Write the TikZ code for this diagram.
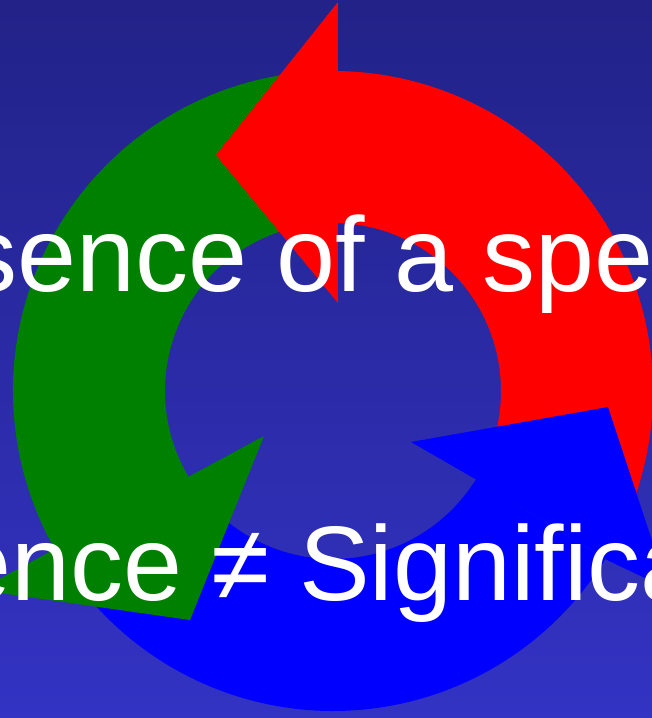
\documentclass[tikz,border=0pt]{standalone}
\usepackage{fontspec}
\setmainfont{Liberation Sans}
\usetikzlibrary{positioning}
\definecolor{bgtop}{RGB}{34,34,136}
\definecolor{bgbottom}{RGB}{51,51,196}
\definecolor{cyclered}{RGB}{255,0,0}
\definecolor{cyclegreen}{RGB}{0,128,0}
\definecolor{cycleblue}{RGB}{0,0,255}
\begin{document}
\begin{tikzpicture}[x=1pt,y=1pt,
    slogan/.style={text=white,font=\fontsize{106}{120}\selectfont,inner sep=0pt,anchor=base west}]

    \useasboundingbox (-333,-327) rectangle (319,391);
    \clip (-333,-327) rectangle (319,391);
    \shade[top color=bgtop,bottom color=bgbottom] (-333,-327) rectangle (319,391);

    % bodies of the three arrows
    \fill[cyclered] (-22:320) arc[start angle=-22,end angle=90,radius=320]
        -- (90:168) arc[start angle=90,end angle=-22,radius=168] -- cycle;
    \fill[cyclegreen] (95:320) arc[start angle=95,end angle=211,radius=320]
        -- (211:168) arc[start angle=211,end angle=95,radius=168] -- cycle;
    \fill[cycleblue] (220:320) arc[start angle=220,end angle=328.3,radius=320]
        -- (328.3:168) arc[start angle=328.3,end angle=220,radius=168] -- cycle;

    % heads
    \fill[cyclered] (5,389) -- (-117,236) -- (5,88) -- cycle;
    \fill[cyclegreen] (-145,-86) -- (-69,-45) -- (-143,-229) -- (-354,-199) -- cycle;
    \fill[cycleblue] (144,-89) -- (78,-51) -- (275,-16) -- (335,-198) -- (274,-169) -- cycle;

    \node[slogan] (speciesline) at (-533.6,99) {Presence of a species};
    \node[slogan] (signifline) at (-598.7,-209) {Presence ≠ Significance};

\end{tikzpicture}
\end{document}
